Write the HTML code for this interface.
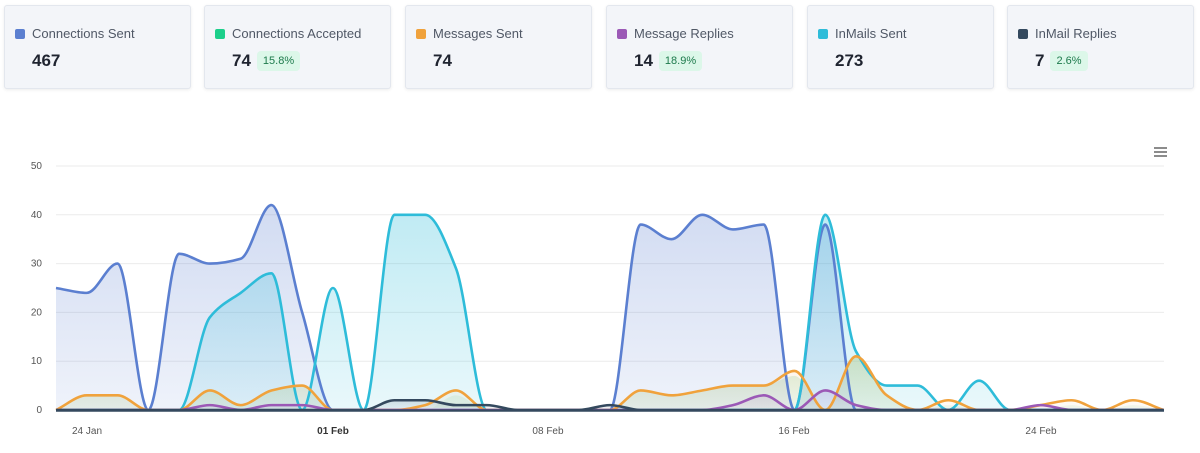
<!DOCTYPE html>
<html><head><meta charset="utf-8"><style>
body{margin:0;width:1200px;height:453px;background:#fff;font-family:"Liberation Sans",sans-serif;overflow:hidden;position:relative}
.card{position:absolute;top:5px;width:185px;height:82px;background:#f3f5f9;border:1px solid #e3e7ee;border-radius:3px;box-shadow:0 1px 3px rgba(0,0,0,.08)}
.lab{position:absolute;left:10px;top:20px;font-size:13px;color:#505866}
.lab i{display:inline-block;width:10px;height:10px;border-radius:2px;margin-right:7px;vertical-align:-1px}
.val{position:absolute;left:27px;top:45px;font-size:17px;font-weight:bold;color:#1f2430}
.pill{display:inline-block;font-size:11px;font-weight:normal;color:#1d7a4c;background:#dcf7e9;padding:4px 6px;border-radius:4px;margin-left:6px;vertical-align:2px}
</style></head><body>
<div class="card" style="left:4px"><div class="lab"><i style="background:#5b7fd0"></i>Connections Sent</div><div class="val">467</div></div>
<div class="card" style="left:204px"><div class="lab"><i style="background:#1ccf8b"></i>Connections Accepted</div><div class="val">74<span class="pill">15.8%</span></div></div>
<div class="card" style="left:405px"><div class="lab"><i style="background:#f0a23c"></i>Messages Sent</div><div class="val">74</div></div>
<div class="card" style="left:606px"><div class="lab"><i style="background:#9b59b6"></i>Message Replies</div><div class="val">14<span class="pill">18.9%</span></div></div>
<div class="card" style="left:807px"><div class="lab"><i style="background:#2ebcd9"></i>InMails Sent</div><div class="val">273</div></div>
<div class="card" style="left:1007px"><div class="lab"><i style="background:#34495e"></i>InMail Replies</div><div class="val">7<span class="pill">2.6%</span></div></div>
<svg id="c" width="1200" height="453" style="position:absolute;left:0;top:0" font-family="Liberation Sans, sans-serif">
<g id="grid"></g><g id="ser"></g>
<g fill="#555" font-size="10" text-anchor="middle">
<text x="87" y="434">24 Jan</text><text x="333" y="434" font-weight="bold" fill="#333">01 Feb</text><text x="548" y="434">08 Feb</text><text x="794" y="434">16 Feb</text><text x="1041" y="434">24 Feb</text>
</g>
<g stroke="#666" stroke-width="1.5"><line x1="1154" y1="148" x2="1167" y2="148"/><line x1="1154" y1="152" x2="1167" y2="152"/><line x1="1154" y1="156" x2="1167" y2="156"/></g>
</svg>
<script>
var X0=56,DX=30.77,Y0=410,K=4.88;
var g=document.getElementById('grid'),s='';
for(var v=0;v<=50;v+=10){var y=Y0-v*K;s+='<line x1="56" x2="1164" y1="'+y+'" y2="'+y+'" stroke="#ebebeb"/><text x="42" y="'+(y+3)+'" font-size="10" fill="#555" text-anchor="end">'+v+'</text>';}
g.innerHTML=s;
function arr(m){var a=[];for(var i=0;i<37;i++)a.push(m[i]||0);return a;}
var blue=arr({0:25,1:24,2:30,4:32,5:30,6:31,7:42,8:20,19:38,20:35,21:40,22:37,23:38,25:38});
var cyan=arr({5:19,6:24,7:28,9:25,11:40,12:40,13:29,25:40,26:12,27:5,28:5,30:6});
var orange=arr({1:3,2:3,5:4,6:1,7:4,8:5,12:1,13:4,19:4,20:3,21:4,22:5,23:5,24:8,26:11,27:3,29:2,32:1,33:2,35:2});
var green=arr({1:3,2:3,5:4,6:1,7:4,8:5,13:3,19:4,20:3,21:4,22:5,23:5,24:7,26:11,27:3,29:1,33:1,35:1});
var purple=arr({5:1,7:1,8:1,22:1,23:3,25:4,26:1,32:1});
var dark=arr({11:2,12:2,13:1,14:1,18:1});
function path(a){var n=a.length,y=a.map(function(v){return Y0-v*K}),d=[],m=[];
for(var i=0;i<n-1;i++)d.push((y[i+1]-y[i])/DX);
for(var i=0;i<n;i++){if(i==0)m.push(d[0]);else if(i==n-1)m.push(d[n-2]);else if(d[i-1]*d[i]<=0)m.push(0);else m.push(2/(1/d[i-1]+1/d[i]));}
var s='M'+X0+','+y[0];
for(var i=0;i<n-1;i++){var x1=X0+i*DX,x2=x1+DX,h=DX/3;
s+=' C'+(x1+h)+','+(y[i]+m[i]*h)+' '+(x2-h)+','+(y[i+1]-m[i+1]*h)+' '+x2+','+y[i+1];}return s;}
var S=[[blue,'#5b7fd0',0.28],[cyan,'#2ebcd9',0.3],[green,'#8fd19e',0.35],[orange,'#f0a23c',0.12],[purple,'#9b59b6',0.15],[dark,'#34495e',0.15]];
var h='<defs>';S.forEach(function(q,i){h+='<linearGradient id="g'+i+'" x1="0" y1="0" x2="0" y2="1"><stop offset="0" stop-color="'+q[1]+'" stop-opacity="'+q[2]+'"/><stop offset="1" stop-color="'+q[1]+'" stop-opacity="'+(q[2]*0.35)+'"/></linearGradient>';});h+='</defs>';
S.forEach(function(q,i){var d=path(q[0]);h+='<path d="'+d+' L1164,410 L56,410Z" fill="url(#g'+i+')"/>';});
S.forEach(function(q,i){if(i==2)return;h+='<path d="'+path(q[0])+'" fill="none" stroke="'+q[1]+'" stroke-width="2.6" stroke-linejoin="round"/>';});
h+='<line x1="56" x2="1164" y1="410.5" y2="410.5" stroke="#34495e" stroke-width="2.5"/>';
document.getElementById('ser').innerHTML=h;
</script>
</body></html>
